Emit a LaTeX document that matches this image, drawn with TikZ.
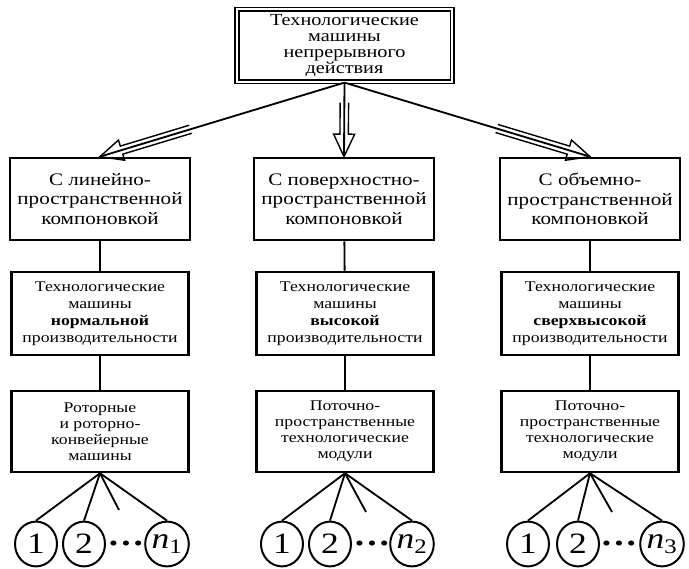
\documentclass[tikz,border=0pt]{standalone}
\usepackage{fontspec}
\setmainfont{Liberation Serif}[FakeStretch=1.2]
\usetikzlibrary{calc,shapes.geometric}

\begin{document}
\begin{tikzpicture}[x=0.025cm,y=-0.025cm,
	topbox/.style={draw,double,double distance=1.6pt,line width=1pt,minimum width=5.375cm,minimum height=1.82cm,inner sep=1pt,align=center,font=\fontsize{12}{11.5}\selectfont},
	kindbox/.style={draw,line width=1.9pt,minimum width=4.5cm,minimum height=2.05cm,inner sep=1pt,align=center,font=\fontsize{12.5}{14}\selectfont},
	ratebox/.style={draw,line width=1.9pt,minimum width=4.42cm,minimum height=2.07cm,inner sep=1pt,align=center,font=\fontsize{10.5}{12}\selectfont},
	unitbox/.style={draw,line width=1.9pt,minimum width=4.42cm,minimum height=2.02cm,inner sep=1pt,align=center,font=\fontsize{10.5}{11.5}\selectfont},
	item/.style={draw,ellipse,line width=1.4pt,minimum width=1.05cm,minimum height=1.12cm,inner sep=0pt,font=\fontsize{21}{21}\selectfont},
	dots/.style={inner sep=0pt,font=\fontsize{15}{15}\selectfont},
	link/.style={line width=1.3pt},
	wide/.style={line width=1pt,line join=miter}]
	\useasboundingbox (0,0) rectangle (689,569);
	\node[topbox] (top) at (344.5,45.5) {Технологические\\машины\\непрерывного\\действия};
	% kinds of layout
	\node[kindbox] (a1) at (100,199) {С линейно-\\пространственной\\компоновкой};
	\node[kindbox] (a2) at (344,199) {С поверхностно-\\пространственной\\компоновкой};
	\node[kindbox] (a3) at (590,199) {С объемно-\\пространственной\\компоновкой};
	% productivity
	\node[ratebox] (b1) at (100,313.5) {Технологические\\машины\\\textbf{нормальной}\\производительности};
	\node[ratebox] (b2) at (345,313.5) {Технологические\\машины\\\textbf{высокой}\\производительности};
	\node[ratebox] (b3) at (590,313.5) {Технологические\\машины\\\textbf{сверхвысокой}\\производительности};
	% machines and modules
	\node[unitbox] (c1) at (100,431.5) {Роторные\\и роторно-\\конвейерные\\машины};
	\node[unitbox] (c2) at (345,431.5) {Поточно-\\пространственные\\технологические\\модули};
	\node[unitbox] (c3) at (590,431.5) {Поточно-\\пространственные\\технологические\\модули};
	% items
	\node[item] (m11) at (36,544) {1};
	\node[item] (m12) at (84,544) {2};
	\node[dots] (d1) at (126,546) {•\,•\,•};
	\node[item] (m1n) at (167,544) {\textit{n}\textsubscript{1}};
	\node[item] (m21) at (282,544) {1};
	\node[item] (m22) at (330,544) {2};
	\node[dots] (d2) at (372,546) {•\,•\,•};
	\node[item] (m2n) at (412,544) {\textit{n}\textsubscript{2}};
	\node[item] (m31) at (528,544) {1};
	\node[item] (m32) at (578,544) {2};
	\node[dots] (d3) at (619,546) {•\,•\,•};
	\node[item] (m3n) at (662,544) {\textit{n}\textsubscript{3}};
	\coordinate (e1) at (119,510);
	\coordinate (e2) at (366,512);
	\coordinate (e3) at (612,512);
	% open double arrows
	\coordinate (s1) at ($(top.south)!0.63!(a1.north)$);
	\coordinate (s2) at ($(top.south)!0.27!(a2.north)$);
	\coordinate (s3) at ($(top.south)!0.62!(a3.north)$);
	\coordinate (h1) at ($(a1.north)!16pt!(s1)$);
	\coordinate (h2) at ($(a2.north)!16pt!(s2)$);
	\coordinate (h3) at ($(a3.north)!16pt!(s3)$);
	\draw[wide] ($(s1)!3pt!90:(a1.north)$) -- ($(h1)!3pt!90:(a1.north)$) -- ($(h1)!7.5pt!90:(a1.north)$) -- (a1.north) -- ($(h1)!7.5pt!-90:(a1.north)$) -- ($(h1)!3pt!-90:(a1.north)$) -- ($(s1)!3pt!-90:(a1.north)$);
	\draw[wide] ($(s2)!3pt!90:(a2.north)$) -- ($(h2)!3pt!90:(a2.north)$) -- ($(h2)!7.5pt!90:(a2.north)$) -- (a2.north) -- ($(h2)!7.5pt!-90:(a2.north)$) -- ($(h2)!3pt!-90:(a2.north)$) -- ($(s2)!3pt!-90:(a2.north)$);
	\draw[wide] ($(s3)!3pt!90:(a3.north)$) -- ($(h3)!3pt!90:(a3.north)$) -- ($(h3)!7.5pt!90:(a3.north)$) -- (a3.north) -- ($(h3)!7.5pt!-90:(a3.north)$) -- ($(h3)!3pt!-90:(a3.north)$) -- ($(s3)!3pt!-90:(a3.north)$);
	\draw[link] (top.south) -- (a1.north);
	\draw[link] (top.south) -- (a2.north);
	\draw[link] (top.south) -- (a3.north);
	\draw[link] (a1) -- (b1) -- (c1);
	\draw[link] (a2) -- (b2) -- (c2);
	\draw[link] (a3) -- (b3) -- (c3);
	\draw[link] (c1.south) -- (m11.north);
	\draw[link] (c1.south) -- (m12.north);
	\draw[link] (c1.south) -- (e1);
	\draw[link] (c1.south) -- (m1n.north);
	\draw[link] (c2.south) -- (m21.north);
	\draw[link] (c2.south) -- (m22.north);
	\draw[link] (c2.south) -- (e2);
	\draw[link] (c2.south) -- (m2n.north);
	\draw[link] (c3.south) -- (m31.north);
	\draw[link] (c3.south) -- (m32.north);
	\draw[link] (c3.south) -- (e3);
	\draw[link] (c3.south) -- (m3n.north);
\end{tikzpicture}
\end{document}
